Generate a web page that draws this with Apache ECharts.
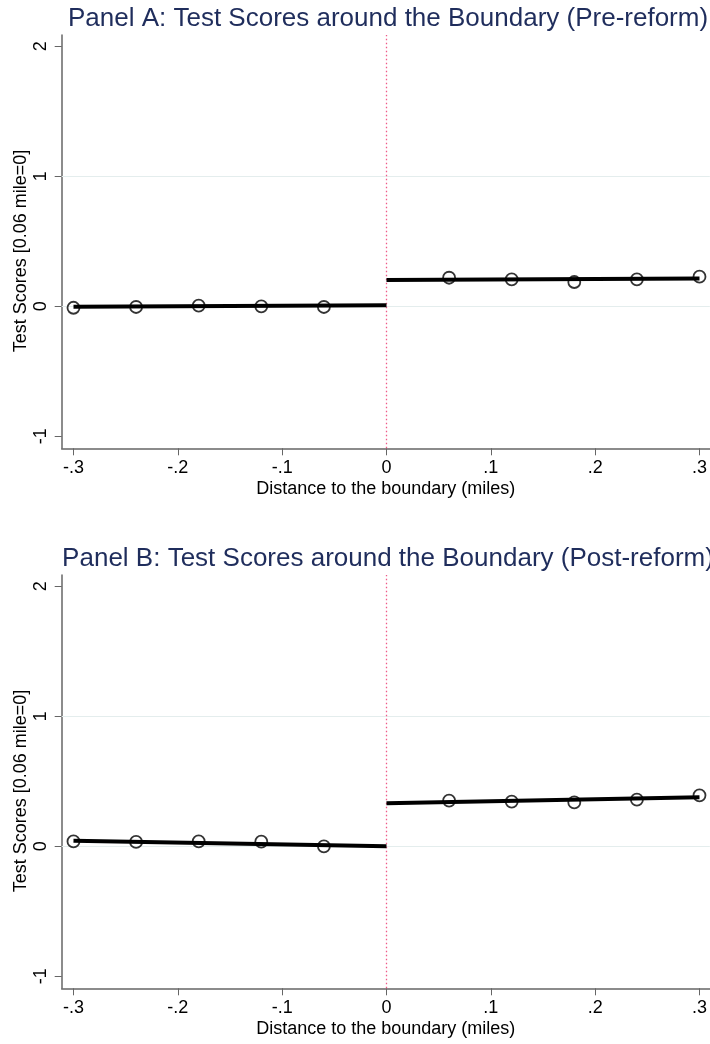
<!DOCTYPE html>
<html>
<head>
<meta charset="utf-8">
<script src="https://cdn.jsdelivr.net/npm/echarts@6/dist/echarts.min.js"></script>
<style>
  html, body { margin: 0; padding: 0; background: #fff; }
  #chart { width: 710px; height: 1044px; }
</style>
</head>
<body>
<div id="chart"></div>
<script>
// Binned distances to the boundary (miles)
const leftBins = [-0.3, -0.24, -0.18, -0.12, -0.06];
const rightBins = [0.06, 0.12, 0.18, 0.24, 0.3];

// Mean test scores per bin, pre-reform
const preLeft = [-0.011, -0.005, 0.005, 0.0, -0.005];
const preRight = [0.22, 0.208, 0.187, 0.208, 0.228];
// Linear fit endpoints, pre-reform (at -0.3 / 0 and 0 / 0.3)
const preFitLeft = [-0.003, 0.008];
const preFitRight = [0.202, 0.215];

// Mean test scores per bin, post-reform
const postLeft = [0.038, 0.034, 0.038, 0.036, 0.0];
const postRight = [0.352, 0.344, 0.338, 0.359, 0.392];
const postFitLeft = [0.042, 0.0];
const postFitRight = [0.331, 0.377];

const fitLeftX = [-0.3, 0];
const fitRightX = [0, 0.3];

const xTicks = [-0.3, -0.2, -0.1, 0, 0.1, 0.2, 0.3];
const yTicks = [-1, 0, 1, 2];
const gridYs = [0, 1];

const titles = [
  'Panel A: Test Scores around the Boundary (Pre-reform)',
  'Panel B: Test Scores around the Boundary (Post-reform)'
];
const xTitle = 'Distance to the boundary (miles)';
const yTitle = 'Test Scores [0.06 mile=0]';

const FONT = '"Liberation Sans", Arial, Helvetica, sans-serif';
const pair = (xs, ys) => xs.map((x, i) => [x, ys[i]]);
const fmtX = v => {
  const r = Math.round(v * 10) / 10;
  if (r === 0) return '0';
  return (r < 0 ? '-' : '') + String(Math.abs(r)).replace(/^0/, '');
};

const panels = [
  { top: 35, pts: [preLeft, preRight], fits: [preFitLeft, preFitRight] },
  { top: 575, pts: [postLeft, postRight], fits: [postFitLeft, postFitRight] }
];
const plotH = 413.3;
const AXIS = '#666';

const grid = [], xAxis = [], yAxis = [], series = [], graphic = [];

panels.forEach((p, i) => {
  grid.push({ left: 61.7, right: 0, top: p.top, height: plotH, containLabel: false });
  // panel title, centred over the plot and allowed to run past the right edge
  graphic.push({
    type: 'text', x: 388, y: p.top - 29, silent: true,
    style: {
      text: titles[i], fill: '#1f2d5c', align: 'center', verticalAlign: 'top',
      font: '26px ' + FONT
    }
  });
  // vertical axis title
  graphic.push({
    type: 'text', x: 21, y: p.top + 216, rotation: Math.PI / 2, silent: true,
    style: {
      text: yTitle, fill: '#000', align: 'center', verticalAlign: 'middle',
      font: '18px ' + FONT
    }
  });
  xAxis.push({
    type: 'value', gridIndex: i, min: -0.3113, max: 0.3099,
    name: xTitle, nameLocation: 'middle', nameGap: 32,
    nameTextStyle: { fontFamily: FONT, fontSize: 18, color: '#000' },
    axisLine: { show: true, onZero: false, lineStyle: { color: AXIS, width: 1.5 } },
    axisTick: { show: true, inside: false, length: 7, lineStyle: { color: AXIS, width: 1 }, customValues: xTicks },
    axisLabel: { fontFamily: FONT, fontSize: 18, color: '#000', margin: 11, customValues: xTicks, formatter: fmtX },
    splitLine: { show: false }
  });
  yAxis.push({
    type: 'value', gridIndex: i, min: -1.092, max: 2.087,
    axisLine: { show: true, onZero: false, lineStyle: { color: AXIS, width: 1.5 } },
    axisTick: { show: true, inside: false, length: 7, lineStyle: { color: AXIS, width: 1 }, customValues: yTicks },
    axisLabel: { fontFamily: FONT, fontSize: 18, color: '#000', rotate: 90, margin: 12, customValues: yTicks },
    splitLine: { show: false }
  });

  // grid lines and the boundary marker, kept beneath the data
  series.push({
    type: 'line', xAxisIndex: i, yAxisIndex: i, data: [], silent: true, z: 1,
    markLine: {
      z: 1, symbol: 'none', silent: true, label: { show: false },
      data: [
        ...gridYs.map(y => ({ yAxis: y, lineStyle: { color: '#e4eded', width: 1, type: 'solid' } })),
        { xAxis: 0, lineStyle: { color: '#ee5a88', width: 1.3, type: [1.5, 2.5] } }
      ]
    }
  });

  // fitted lines
  [[fitLeftX, p.fits[0]], [fitRightX, p.fits[1]]].forEach(([xs, ys]) => {
    series.push({
      type: 'line', xAxisIndex: i, yAxisIndex: i, data: pair(xs, ys),
      showSymbol: false, symbol: 'none', z: 3,
      lineStyle: { color: '#000', width: 4 }
    });
  });

  // binned means
  series.push({
    type: 'scatter', xAxisIndex: i, yAxisIndex: i, z: 4,
    data: [...pair(leftBins, p.pts[0]), ...pair(rightBins, p.pts[1])],
    symbol: 'circle', symbolSize: 12,
    itemStyle: { color: 'rgba(0,0,0,0)', borderColor: '#000', borderWidth: 1.8 }
  });
});

const chart = echarts.init(document.getElementById('chart'), null, { renderer: 'canvas' });
chart.setOption({ animation: false, backgroundColor: '#fff', graphic, grid, xAxis, yAxis, series });
</script>
</body>
</html>
